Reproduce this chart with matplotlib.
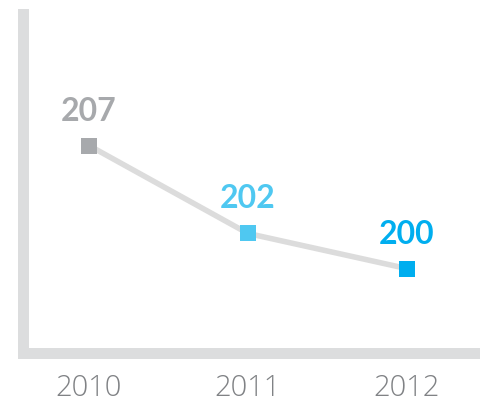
import matplotlib
matplotlib.use("Agg")
import matplotlib.pyplot as plt

# 每年数值
years = [2010, 2011, 2012]
values = [207, 202, 200]
point_colors = ["#a7a9ac", "#4fc8f1", "#00aeef"]
year_labels = ["2010", "2011", "2012"]

fig = plt.figure(figsize=(4.84, 4.07), dpi=100)
ax = fig.add_axes([22.5 / 484, 54.5 / 407, 451 / 484, 339 / 407])

# 连线
ax.plot(years, values, color="#dcdcdc", lw=4.0, zorder=2, solid_capstyle="butt")

# 方块 + 数值
for x, v, c in zip(years, values, point_colors):
    ax.plot(x, v, marker="s", ms=11.5, color=c, mec=c, mew=0, zorder=3)
    ax.annotate(str(v), (x, v), xytext=(0, 18), textcoords="offset points",
                ha="center", va="baseline", color=c, fontsize=23,
                fontfamily="Lato", fontweight="bold")

ax.set_xlim(2009.582, 2012.418)
ax.set_ylim(195.23, 214.51)

for s in ["top", "right"]:
    ax.spines[s].set_visible(False)
for s in ["left", "bottom"]:
    ax.spines[s].set_color("#dcddde")
    ax.spines[s].set_linewidth(7.9)

ax.set_yticks([])
ax.set_xticks(years)
ax.set_xticklabels(year_labels, fontsize=21, color="#808285",
                   fontfamily="Open Sans", fontweight="light")
ax.tick_params(axis="x", length=0, pad=15)

fig.savefig("out.png", dpi=100)
